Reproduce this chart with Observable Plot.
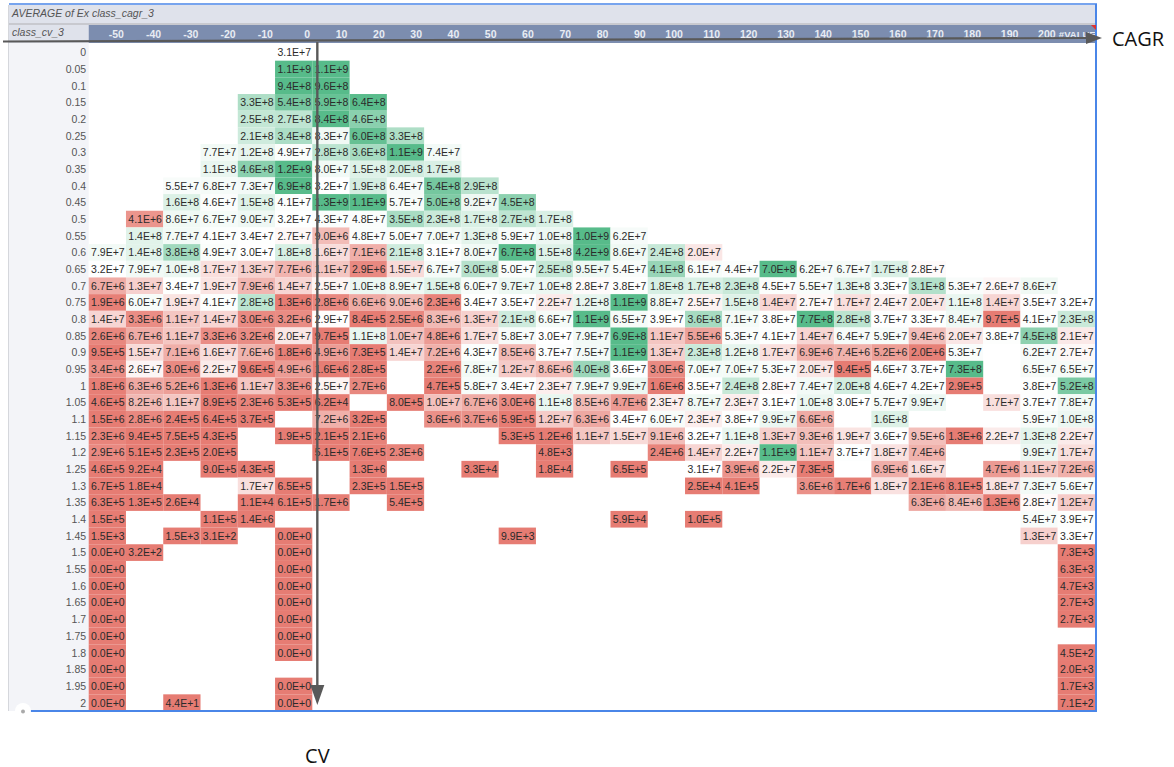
<!DOCTYPE html>
<html>
<head>
<meta charset="utf-8">
<style>
  html, body { margin: 0; padding: 0; background: #fff; }
  svg { display: block; }
  g[aria-label="x-axis tick label"] text { font-weight: 600; }
</style>
<script src="https://cdn.jsdelivr.net/npm/d3@7"></script>
<script src="https://cdn.jsdelivr.net/npm/@observablehq/plot@0.6"></script>
</head>
<body>
<div id="chart"></div>
<script>
const pivotTitle = "AVERAGE of Ex class_cagr_3";
const rowFieldName = "class_cv_3";
const xTitle = "CAGR";
const yTitle = "CV";

const cagrClasses = ["-50","-40","-30","-20","-10","0","10","20","30","40","50","60","70","80","90","100","110","120","130","140","150","160","170","180","190","200","#VALUE!"];
const cvClasses = ["0","0.05","0.1","0.15","0.2","0.25","0.3","0.35","0.4","0.45","0.5","0.55","0.6","0.65","0.7","0.75","0.8","0.85","0.9","0.95","1","1.05","1.1","1.15","1.2","1.25","1.3","1.35","1.4","1.45","1.5","1.55","1.6","1.65","1.7","1.75","1.8","1.85","1.95","2"];

// One entry per CV class, in cvClasses order; "cagr:value" pairs, V = the #VALUE! column.
const rowCells = [
"0:3.1E+7",
"0:1.1E+9 10:1.1E+9",
"0:9.4E+8 10:9.6E+8",
"-10:3.3E+8 0:5.4E+8 10:5.9E+8 20:6.4E+8",
"-10:2.5E+8 0:2.7E+8 10:8.4E+8 20:4.6E+8",
"-10:2.1E+8 0:3.4E+8 10:8.3E+7 20:6.0E+8 30:3.3E+8",
"-20:7.7E+7 -10:1.2E+8 0:4.9E+7 10:2.8E+8 20:3.6E+8 30:1.1E+9 40:7.4E+7",
"-20:1.1E+8 -10:4.6E+8 0:1.2E+9 10:8.0E+7 20:1.5E+8 30:2.0E+8 40:1.7E+8",
"-30:5.5E+7 -20:6.8E+7 -10:7.3E+7 0:6.9E+8 10:3.2E+7 20:1.9E+8 30:6.4E+7 40:5.4E+8 50:2.9E+8",
"-30:1.6E+8 -20:4.6E+7 -10:1.5E+8 0:4.1E+7 10:1.3E+9 20:1.1E+9 30:5.7E+7 40:5.0E+8 50:9.2E+7 60:4.5E+8",
"-40:4.1E+6 -30:8.6E+7 -20:6.7E+7 -10:9.0E+7 0:3.2E+7 10:4.3E+7 20:4.8E+7 30:3.5E+8 40:2.3E+8 50:1.7E+8 60:2.7E+8 70:1.7E+8",
"-40:1.4E+8 -30:7.7E+7 -20:4.1E+7 -10:3.4E+7 0:2.7E+7 10:9.0E+6 20:4.8E+7 30:5.0E+7 40:7.0E+7 50:1.3E+8 60:5.9E+7 70:1.0E+8 80:1.0E+9 90:6.2E+7",
"-50:7.9E+7 -40:1.4E+8 -30:3.8E+8 -20:4.9E+7 -10:3.0E+7 0:1.8E+8 10:1.6E+7 20:7.1E+6 30:2.1E+8 40:3.1E+7 50:8.0E+7 60:6.7E+8 70:1.5E+8 80:4.2E+9 90:8.6E+7 100:2.4E+8 110:2.0E+7",
"-50:3.2E+7 -40:7.9E+7 -30:1.0E+8 -20:1.7E+7 -10:1.3E+7 0:7.7E+6 10:1.1E+7 20:2.9E+6 30:1.5E+7 40:6.7E+7 50:3.0E+8 60:5.0E+7 70:2.5E+8 80:9.5E+7 90:5.4E+7 100:4.1E+8 110:6.1E+7 120:4.4E+7 130:7.0E+8 140:6.2E+7 150:6.7E+7 160:1.7E+8 170:2.8E+7",
"-50:6.7E+6 -40:1.3E+7 -30:3.4E+7 -20:1.9E+7 -10:7.9E+6 0:1.4E+7 10:2.5E+7 20:1.0E+8 30:8.9E+7 40:1.5E+8 50:6.0E+7 60:9.7E+7 70:1.0E+8 80:2.8E+7 90:3.8E+7 100:1.8E+8 110:1.7E+8 120:2.3E+8 130:4.5E+7 140:5.5E+7 150:1.3E+8 160:3.3E+7 170:3.1E+8 180:5.3E+7 190:2.6E+7 200:8.6E+7",
"-50:1.9E+6 -40:6.0E+7 -30:1.9E+7 -20:4.1E+7 -10:2.8E+8 0:1.3E+6 10:2.8E+6 20:6.6E+6 30:9.0E+6 40:2.3E+6 50:3.4E+7 60:3.5E+7 70:2.2E+7 80:1.2E+8 90:1.1E+9 100:8.8E+7 110:2.5E+7 120:1.5E+8 130:1.4E+7 140:2.7E+7 150:1.7E+7 160:2.4E+7 170:2.0E+7 180:1.1E+8 190:1.4E+7 200:3.5E+7 V:3.2E+7",
"-50:1.4E+7 -40:3.3E+6 -30:1.1E+7 -20:1.4E+7 -10:3.0E+6 0:3.2E+6 10:2.9E+7 20:8.4E+5 30:2.5E+6 40:8.3E+6 50:1.3E+7 60:2.1E+8 70:6.6E+7 80:1.1E+9 90:6.5E+7 100:3.9E+7 110:3.6E+8 120:7.1E+7 130:3.8E+7 140:7.7E+8 150:2.8E+8 160:3.7E+7 170:3.3E+7 180:8.4E+7 190:9.7E+5 200:4.1E+7 V:2.3E+8",
"-50:2.6E+6 -40:6.7E+6 -30:1.1E+7 -20:3.3E+6 -10:3.2E+6 0:2.0E+7 10:9.7E+5 20:1.1E+8 30:1.0E+7 40:4.8E+6 50:1.7E+7 60:5.8E+7 70:3.0E+7 80:7.9E+7 90:6.9E+8 100:1.1E+7 110:5.5E+6 120:5.3E+7 130:4.1E+7 140:1.4E+7 150:6.4E+7 160:5.9E+7 170:9.4E+6 180:2.0E+7 190:3.8E+7 200:4.5E+8 V:2.1E+7",
"-50:9.5E+5 -40:1.5E+7 -30:7.1E+6 -20:1.6E+7 -10:7.6E+6 0:1.8E+6 10:4.9E+6 20:7.3E+5 30:1.4E+7 40:7.2E+6 50:4.3E+7 60:8.5E+6 70:3.7E+7 80:7.5E+7 90:1.1E+9 100:1.3E+7 110:2.3E+8 120:1.2E+8 130:1.7E+7 140:6.9E+6 150:7.4E+6 160:5.2E+6 170:2.0E+6 180:5.3E+7 200:6.2E+7 V:2.7E+7",
"-50:3.4E+6 -40:2.6E+7 -30:3.0E+6 -20:2.2E+7 -10:9.6E+5 0:4.9E+6 10:1.6E+6 20:2.8E+5 40:2.2E+6 50:7.8E+7 60:1.2E+7 70:8.6E+6 80:4.0E+8 90:3.6E+7 100:3.0E+6 110:7.0E+7 120:7.0E+7 130:5.3E+7 140:2.0E+7 150:9.4E+5 160:4.6E+7 170:3.7E+7 180:7.3E+8 200:6.5E+7 V:6.5E+7",
"-50:1.8E+6 -40:6.3E+6 -30:5.2E+6 -20:1.3E+6 -10:1.1E+7 0:3.3E+6 10:2.5E+7 20:2.7E+6 40:4.7E+5 50:5.8E+7 60:3.4E+7 70:2.3E+7 80:7.9E+7 90:9.9E+7 100:1.6E+6 110:3.5E+7 120:2.4E+8 130:2.8E+7 140:7.4E+7 150:2.0E+8 160:4.6E+7 170:4.2E+7 180:2.9E+5 200:3.8E+7 V:5.2E+8",
"-50:4.6E+5 -40:8.2E+6 -30:1.1E+7 -20:8.9E+5 -10:2.3E+6 0:5.3E+5 10:6.2E+4 30:8.0E+5 40:1.0E+7 50:6.7E+6 60:3.0E+6 70:1.1E+8 80:8.5E+6 90:4.7E+6 100:2.3E+7 110:8.7E+7 120:2.3E+7 130:3.1E+7 140:1.0E+8 150:3.0E+7 160:5.7E+7 170:9.9E+7 190:1.7E+7 200:3.7E+7 V:7.8E+7",
"-50:1.5E+6 -40:2.8E+6 -30:2.4E+5 -20:6.4E+5 -10:3.7E+5 10:7.2E+6 20:3.2E+5 40:3.6E+6 50:3.7E+6 60:5.9E+5 70:1.2E+7 80:6.3E+6 90:3.4E+7 100:6.0E+7 110:2.3E+7 120:3.8E+7 130:9.9E+7 140:6.6E+6 160:1.6E+8 200:5.9E+7 V:1.0E+8",
"-50:2.3E+6 -40:9.4E+5 -30:7.5E+5 -20:4.3E+5 0:1.9E+5 10:2.1E+5 20:2.1E+6 60:5.3E+5 70:1.2E+6 80:1.1E+7 90:1.5E+7 100:9.1E+6 110:3.2E+7 120:1.1E+8 130:1.3E+7 140:9.3E+6 150:1.9E+7 160:3.6E+7 170:9.5E+6 180:1.3E+6 190:2.2E+7 200:1.3E+8 V:2.2E+7",
"-50:2.9E+6 -40:5.1E+5 -30:2.3E+5 -20:2.0E+5 10:5.1E+5 20:7.6E+5 30:2.3E+6 70:4.8E+3 100:2.4E+6 110:1.4E+7 120:2.2E+7 130:1.1E+9 140:1.1E+7 150:3.7E+7 160:1.8E+7 170:7.4E+6 200:9.9E+7 V:1.7E+7",
"-50:4.6E+5 -40:9.2E+4 -20:9.0E+5 -10:4.3E+5 20:1.3E+6 50:3.3E+4 70:1.8E+4 90:6.5E+5 110:3.1E+7 120:3.9E+6 130:2.2E+7 140:7.3E+5 160:6.9E+6 170:1.6E+7 190:4.7E+6 200:1.1E+7 V:7.2E+6",
"-50:6.7E+5 -40:1.8E+4 -10:1.7E+7 0:6.5E+5 20:2.3E+5 30:1.5E+5 110:2.5E+4 120:4.1E+5 140:3.6E+6 150:1.7E+6 160:1.8E+7 170:2.1E+6 180:8.1E+5 190:1.8E+7 200:7.3E+7 V:5.6E+7",
"-50:6.3E+5 -40:1.3E+5 -30:2.6E+4 -10:1.1E+4 0:6.1E+5 10:1.7E+6 30:5.4E+5 170:6.3E+6 180:8.4E+6 190:1.3E+6 200:2.8E+7 V:1.2E+7",
"-50:1.5E+5 -20:1.1E+5 -10:1.4E+6 90:5.9E+4 110:1.0E+5 200:5.4E+7 V:3.9E+7",
"-50:1.5E+3 -30:1.5E+3 -20:3.1E+2 0:0.0E+0 60:9.9E+3 200:1.3E+7 V:3.3E+7",
"-50:0.0E+0 -40:3.2E+2 0:0.0E+0 V:7.3E+3",
"-50:0.0E+0 0:0.0E+0 V:6.3E+3",
"-50:0.0E+0 0:0.0E+0 V:4.7E+3",
"-50:0.0E+0 0:0.0E+0 V:2.7E+3",
"-50:0.0E+0 0:0.0E+0 V:2.7E+3",
"-50:0.0E+0 0:0.0E+0",
"-50:0.0E+0 0:0.0E+0 V:4.5E+2",
"-50:0.0E+0 V:2.0E+3",
"-50:0.0E+0 0:0.0E+0 V:1.7E+3",
"-50:0.0E+0 -30:4.4E+1 0:0.0E+0 V:7.1E+2"
];

// Conditional-format colour stops (red below the midpoint, green above it).
const colorStops = [0, 1.5e6, 4e6, 8e6, 1.5e7, 3e7, 6.5e8];
const colorRange = ["#e67c73", "#e67c73", "#eb948c", "#f1b7b2", "#f8dad8", "#ffffff", "#57bb8a"];

const cells = cvClasses.flatMap((cv, i) =>
  rowCells[i].split(" ").map(pair => {
    const [c, label] = pair.split(":");
    return { cv, cagr: c === "V" ? "#VALUE!" : c, label, value: +label };
  })
);

const W = 1174, H = 767;
const frame = { left: 9, right: 1096, top: 5, titleBottom: 24, headBottom: 44, bottom: 711, panelRight: 88.7 };
const fontUI = "'Liberation Sans', Arial, sans-serif";

function svgG() { return d3.create("svg:g").attr("text-anchor", "start"); }

// Worksheet chrome behind the grid.
const chrome = () => {
  const g = svgG();
  const rect = (a, b, c, d, fill) => g.append("rect").attr("x", a).attr("y", b).attr("width", c - a).attr("height", d - b).attr("fill", fill);
  rect(frame.left, frame.top, frame.right, frame.titleBottom - 1, "#dfe2eb");
  rect(frame.left, frame.titleBottom - 1, frame.right, frame.titleBottom + 1, "#c8c9cf");
  rect(frame.left, frame.titleBottom + 1, frame.panelRight, frame.headBottom - 1, "#dfe2eb");
  rect(frame.panelRight, frame.titleBottom + 1, frame.right, frame.headBottom - 1, "#7c8daf");
  rect(frame.left, frame.headBottom - 1, frame.panelRight, frame.bottom, "#f3f4f8");
  rect(frame.left - 1, frame.top, frame.left, frame.bottom, "#d5d7dc");
  const t = (s, a, b) => g.append("text").text(s).attr("x", a).attr("y", b)
    .attr("font-family", fontUI).attr("font-size", 10.5).attr("font-style", "italic").attr("fill", "#555").attr("dy", "0.32em");
  t(pivotTitle, 12, 14);
  t(rowFieldName, 12, 33);
  return g.node();
};

// Blue selection frame and the two hand-drawn axis arrows over the grid.
const overlay = (index, { x }) => {
  const g = svgG();
  const line = (x1, y1, x2, y2, c, w) => g.append("line").attr("x1", x1).attr("y1", y1).attr("x2", x2).attr("y2", y2).attr("stroke", c).attr("stroke-width", w);
  line(frame.left, 4, frame.right + 1, 4, "#4a86e8", 1.5);
  line(frame.right, 4, frame.right, frame.bottom, "#4a86e8", 2);
  line(30, frame.bottom, frame.right + 1, frame.bottom, "#4a86e8", 2);
  g.append("path").attr("d", "M1091 25h5v5z").attr("fill", "#d33");
  g.append("circle").attr("cx", 23).attr("cy", frame.bottom).attr("r", 8).attr("fill", "#fff");
  g.append("circle").attr("cx", 23).attr("cy", frame.bottom + 0.5).attr("r", 2).attr("fill", "#aaa");
  const axisX = x("10") + 5;
  line(3, 41.5, 1086, 38, "#595959", 2.2);
  g.append("path").attr("d", "M1086 32L1102 38L1086 44z").attr("fill", "#595959");
  line(axisX, 42, axisX, 686, "#595959", 2.4);
  g.append("path").attr("d", `M${axisX - 7} 685L${axisX} 705L${axisX + 7} 685z`).attr("fill", "#595959");
  const lab = (s, a, b, anchor) => g.append("text").text(s).attr("x", a).attr("y", b).attr("dy", "0.35em").attr("text-anchor", anchor)
    .attr("font-family", "'Open Sans', sans-serif").attr("font-size", 20).attr("fill", "#111");
  lab(xTitle, 1112, 39, "start");
  lab(yTitle, axisX, 756, "middle");
  return g.node();
};

const chart = Plot.plot({
  width: W,
  height: H,
  marginLeft: frame.panelRight,
  marginRight: W - 1095,
  marginTop: frame.headBottom,
  marginBottom: H - frame.bottom,
  style: { fontFamily: fontUI, fontSize: "10.5px", background: "#fff", overflow: "visible" },
  x: { type: "band", domain: cagrClasses, padding: 0, align: 0, round: false, label: null },
  y: { type: "band", domain: cvClasses, padding: 0, align: 0, round: false, label: null },
  color: { type: "linear", domain: colorStops, range: colorRange, clamp: true },
  marks: [
    chrome,
    Plot.cell(cells, { x: "cagr", y: "cv", fill: "value" }),
    Plot.text(cells, { x: "cagr", y: "cv", text: "label", fill: "#2b2b2b" }),
    Plot.axisY({ anchor: "left", tickSize: 0, tickPadding: 3, fill: "#555", label: null }),
    Plot.axisX({ anchor: "top", ticks: cagrClasses.slice(0, -1), tickSize: 0, tickPadding: 7, fill: "#e8ecf3", textAnchor: "end", dx: 16, label: null }),
    Plot.axisX({ anchor: "top", ticks: cagrClasses.slice(-1), tickFormat: () => "#VALUE", fontSize: 9.5, tickSize: 0, tickPadding: 7, fill: "#e8ecf3", textAnchor: "start", dx: -18, label: null }),
    overlay
  ]
});
document.getElementById("chart").append(chart);
</script>
</body>
</html>
